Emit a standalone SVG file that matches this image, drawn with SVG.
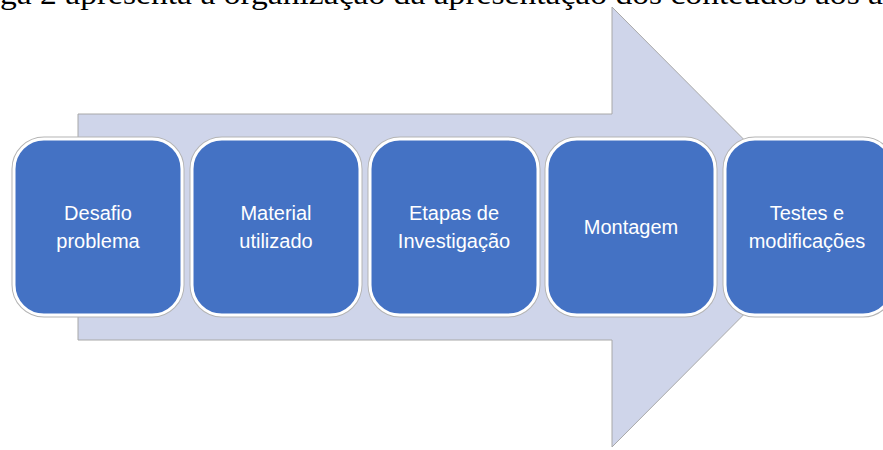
<svg xmlns="http://www.w3.org/2000/svg" width="883" height="450" viewBox="0 0 883 450">
  <style>
    .caption { font-family: "Liberation Serif", "Times New Roman", serif; font-size: 29px; fill: #000; }
    .arrow { fill: #CFD5EA; stroke: #A8A8A8; stroke-width: 1; }
    .halo { fill: none; stroke: #B4B4B4; stroke-width: 5; }
    .box { fill: #4472C4; stroke: #FFFFFF; stroke-width: 3; }
    .label { font-family: "Liberation Sans", Arial, sans-serif; font-size: 20px; fill: #FFFFFF; text-anchor: middle; }
  </style>

  <!-- caption line, partly cut by the top edge -->
  <text class="caption" x="0" y="4" textLength="883" lengthAdjust="spacingAndGlyphs">ga 2 apresenta a organização da apresentação dos conteúdos aos a</text>

  <!-- large process arrow behind the steps -->
  <g id="connectors">
    <path class="arrow" d="M78,114 H612 V7 L831,227 L612,447 V340 H78 Z"/>
  </g>

  <g id="step1">
    <rect class="halo" x="14" y="139" width="168" height="176" rx="30"/>
    <rect class="box" x="14" y="139" width="168" height="176" rx="30"/>
    <text class="label" x="98" y="220">Desafio</text>
    <text class="label" x="98" y="248">problema</text>
  </g>

  <g id="step2">
    <rect class="halo" x="192" y="139" width="168" height="176" rx="30"/>
    <rect class="box" x="192" y="139" width="168" height="176" rx="30"/>
    <text class="label" x="276" y="220">Material</text>
    <text class="label" x="276" y="248">utilizado</text>
  </g>

  <g id="step3">
    <rect class="halo" x="370" y="139" width="168" height="176" rx="30"/>
    <rect class="box" x="370" y="139" width="168" height="176" rx="30"/>
    <text class="label" x="454" y="220">Etapas de</text>
    <text class="label" x="454" y="248">Investigação</text>
  </g>

  <g id="step4">
    <rect class="halo" x="547" y="139" width="168" height="176" rx="30"/>
    <rect class="box" x="547" y="139" width="168" height="176" rx="30"/>
    <text class="label" x="631" y="234">Montagem</text>
  </g>

  <g id="step5">
    <rect class="halo" x="725" y="139" width="168" height="176" rx="30"/>
    <rect class="box" x="725" y="139" width="168" height="176" rx="30"/>
    <text class="label" x="807" y="220">Testes e</text>
    <text class="label" x="807" y="248">modificações</text>
  </g>
</svg>
